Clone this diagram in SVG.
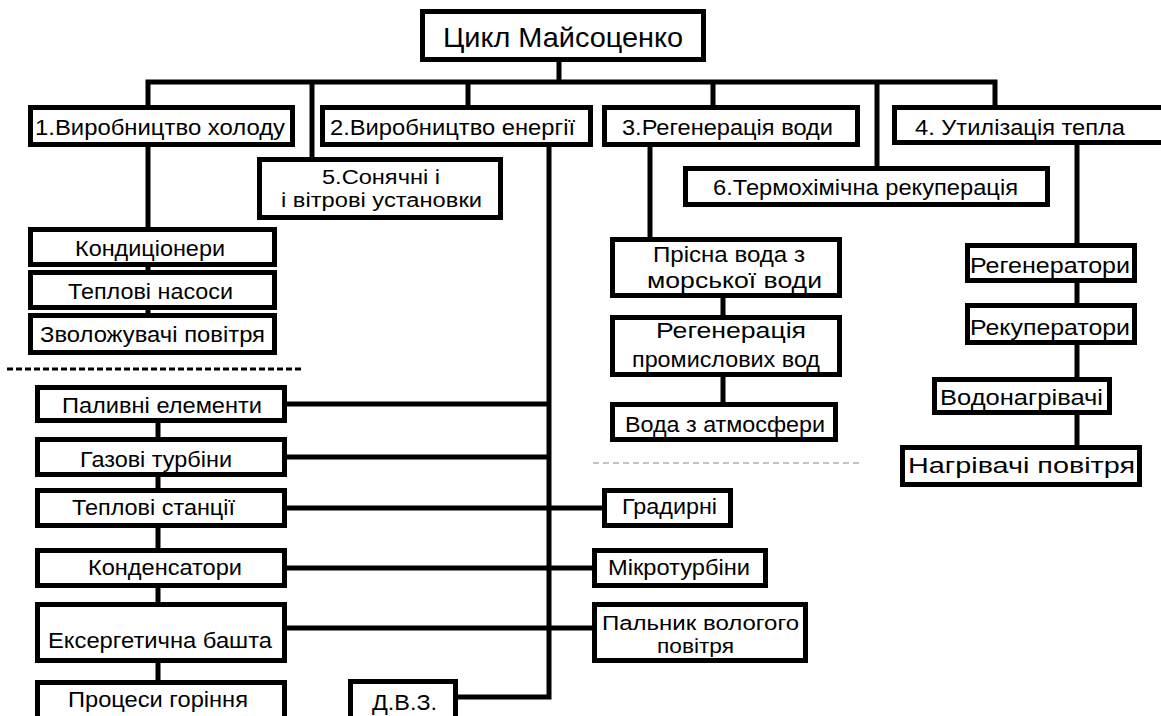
<svg xmlns="http://www.w3.org/2000/svg" width="1161" height="716" viewBox="0 0 1161 716">
<style>
.box{fill:#fff;stroke:#000;stroke-width:5}
.ln{fill:none;stroke:#000;stroke-width:5;stroke-linejoin:miter;stroke-linecap:butt}
text{font-family:"Liberation Sans",Arial,sans-serif;font-size:22px;fill:#000;text-anchor:middle}
.t{font-size:28px}
.s{font-size:20px}
</style>
<rect width="1161" height="716" fill="#fff"/>
<g id="connectors">
<line class="ln" x1="559" y1="62" x2="559" y2="82"/>
<path class="ln" d="M148,107 V82 H995 V107"/>
<line class="ln" x1="468" y1="82" x2="468" y2="106"/>
<line class="ln" x1="312" y1="82" x2="312" y2="158"/>
<line class="ln" x1="713" y1="82" x2="713" y2="106"/>
<line class="ln" x1="877" y1="82" x2="877" y2="167"/>
<line class="ln" x1="148" y1="146" x2="148" y2="314"/>
<line class="ln" x1="158" y1="422" x2="158" y2="681"/>
<path class="ln" d="M549,146 V697 H457"/>
<line class="ln" x1="286" y1="404" x2="549" y2="404"/>
<line class="ln" x1="286" y1="457" x2="549" y2="457"/>
<line class="ln" x1="286" y1="508" x2="603" y2="508"/>
<line class="ln" x1="286" y1="568" x2="593" y2="568"/>
<line class="ln" x1="286" y1="628" x2="593" y2="628"/>
<line class="ln" x1="650" y1="146" x2="650" y2="238"/>
<line class="ln" x1="723" y1="297" x2="723" y2="403"/>
<line class="ln" x1="1077" y1="144" x2="1077" y2="446"/>
<line x1="7" y1="369" x2="303" y2="369" stroke="#000" stroke-width="3" stroke-dasharray="6 3"/>
<line x1="593" y1="463" x2="860" y2="463" stroke="#888" stroke-width="1" stroke-dasharray="6 4"/>
</g>
<g id="n-title"><rect class="box" x="422.5" y="11.5" width="281" height="48"/><text class="t" x="563" y="47" textLength="240" lengthAdjust="spacingAndGlyphs">Цикл Майсоценко</text></g>
<g id="n1"><rect class="box" x="30.5" y="107.5" width="262" height="37"/><text x="160" y="135" textLength="250" lengthAdjust="spacingAndGlyphs">1.Виробництво холоду</text></g>
<g id="n2"><rect class="box" x="322.5" y="107.5" width="268" height="37"/><text x="452.5" y="135" textLength="245" lengthAdjust="spacingAndGlyphs">2.Виробництво енергії</text></g>
<g id="n3"><rect class="box" x="604.5" y="107.5" width="253" height="37"/><text x="727.5" y="135" textLength="211" lengthAdjust="spacingAndGlyphs">3.Регенерація води</text></g>
<g id="n4"><rect class="box" x="894.5" y="107.5" width="275" height="35"/><text x="1020" y="135" textLength="210" lengthAdjust="spacingAndGlyphs">4. Утилізація тепла</text></g>
<g id="n5"><rect class="box" x="259.5" y="159.5" width="241" height="58"/><text class="s" x="381" y="184" textLength="118" lengthAdjust="spacingAndGlyphs">5.Сонячні і</text><text class="s" x="381.5" y="207" textLength="201" lengthAdjust="spacingAndGlyphs">і вітрові установки</text></g>
<g id="n6"><rect class="box" x="685.5" y="168.5" width="362" height="36"/><text x="865.5" y="195" textLength="305" lengthAdjust="spacingAndGlyphs">6.Термохімічна рекуперація</text></g>
<g id="n-kond"><rect class="box" x="30.5" y="229.5" width="244" height="35"/><text x="150" y="256" textLength="150" lengthAdjust="spacingAndGlyphs">Кондиціонери</text></g>
<g id="n-tn"><rect class="box" x="30.5" y="272.5" width="244" height="35"/><text x="150.5" y="299" textLength="165" lengthAdjust="spacingAndGlyphs">Теплові насоси</text></g>
<g id="n-zv"><rect class="box" x="30.5" y="315.5" width="244" height="37"/><text x="152.5" y="342" textLength="225" lengthAdjust="spacingAndGlyphs">Зволожувачі повітря</text></g>
<g id="n-pe"><rect class="box" x="37.5" y="387.5" width="247" height="33"/><text x="162" y="413" textLength="200" lengthAdjust="spacingAndGlyphs">Паливні елементи</text></g>
<g id="n-gt"><rect class="box" x="37.5" y="439.5" width="247" height="35"/><text x="156" y="467" textLength="152" lengthAdjust="spacingAndGlyphs">Газові турбіни</text></g>
<g id="n-ts"><rect class="box" x="37.5" y="490.5" width="247" height="35"/><text x="153.5" y="515" textLength="163" lengthAdjust="spacingAndGlyphs">Теплові станції</text></g>
<g id="n-kd"><rect class="box" x="37.5" y="550.5" width="247" height="35"/><text x="165" y="575" textLength="154" lengthAdjust="spacingAndGlyphs">Конденсатори</text></g>
<g id="n-eb"><rect class="box" x="37.5" y="604.5" width="247" height="56"/><text x="160" y="648" textLength="224" lengthAdjust="spacingAndGlyphs">Ексергетична башта</text></g>
<g id="n-pg"><rect class="box" x="37.5" y="682.5" width="247" height="50"/><text x="158" y="707" textLength="180" lengthAdjust="spacingAndGlyphs">Процеси горіння</text></g>
<g id="n-gr"><rect class="box" x="604.5" y="490.5" width="126" height="35"/><text x="669.5" y="514" textLength="95" lengthAdjust="spacingAndGlyphs">Градирні</text></g>
<g id="n-mt"><rect class="box" x="594.5" y="550.5" width="171" height="35"/><text x="679" y="575" textLength="142" lengthAdjust="spacingAndGlyphs">Мікротурбіни</text></g>
<g id="n-pv"><rect class="box" x="594.5" y="604.5" width="211" height="56"/><text class="s" x="700.5" y="630" textLength="197" lengthAdjust="spacingAndGlyphs">Пальник вологого</text><text class="s" x="695.5" y="653" textLength="77" lengthAdjust="spacingAndGlyphs">повітря</text></g>
<g id="n-dvz"><rect class="box" x="350.5" y="681.5" width="105" height="50"/><text x="404.5" y="710" textLength="65" lengthAdjust="spacingAndGlyphs">Д.В.З.</text></g>
<g id="n-pr"><rect class="box" x="612.5" y="239.5" width="227" height="56"/><text x="729" y="262" textLength="152" lengthAdjust="spacingAndGlyphs">Прісна вода з</text><text x="734.5" y="288" textLength="175" lengthAdjust="spacingAndGlyphs">морської води</text></g>
<g id="n-rp"><rect class="box" x="612.5" y="317.5" width="227" height="57"/><text x="731" y="338" textLength="150" lengthAdjust="spacingAndGlyphs">Регенерація</text><text x="726" y="367" textLength="188" lengthAdjust="spacingAndGlyphs">промислових вод</text></g>
<g id="n-va"><rect class="box" x="612.5" y="404.5" width="223" height="35"/><text x="725" y="432" textLength="200" lengthAdjust="spacingAndGlyphs">Вода з атмосфери</text></g>
<g id="n-rg"><rect class="box" x="967.5" y="245.5" width="167" height="35"/><text x="1050" y="273" textLength="160" lengthAdjust="spacingAndGlyphs">Регенератори</text></g>
<g id="n-rk"><rect class="box" x="967.5" y="305.5" width="167" height="37"/><text x="1050" y="335" textLength="160" lengthAdjust="spacingAndGlyphs">Рекуператори</text></g>
<g id="n-vn"><rect class="box" x="934.5" y="379.5" width="175" height="33"/><text x="1021.5" y="405" textLength="163" lengthAdjust="spacingAndGlyphs">Водонагрівачі</text></g>
<g id="n-np"><rect class="box" x="902.5" y="447.5" width="237" height="37"/><text x="1021.5" y="473" textLength="227" lengthAdjust="spacingAndGlyphs">Нагрівачі повітря</text></g>
</svg>
